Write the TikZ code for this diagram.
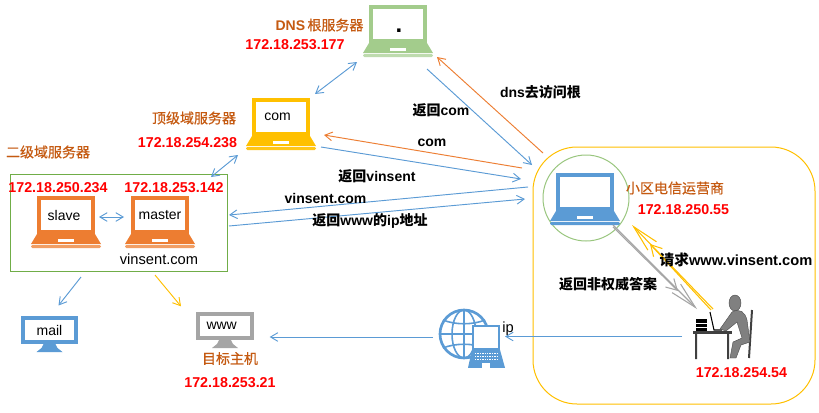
\documentclass[tikz,border=0pt]{standalone}
\usepackage{fontspec}
\setmainfont{Liberation Sans}
\newfontfamily\cjk{Noto Sans CJK SC}
\newfontfamily\cjkmid[FakeBold=0.5]{Noto Sans CJK SC}
\usetikzlibrary{arrows.meta}

\definecolor{netblue}{HTML}{5B9BD5}
\definecolor{netorange}{HTML}{ED7D31}
\definecolor{netyellow}{HTML}{FFC000}
\definecolor{netgreen}{HTML}{70AD47}
\definecolor{lapgreen}{HTML}{A3CC8C}
\definecolor{netgray}{HTML}{A5A5A5}
\definecolor{titlecol}{HTML}{C55A11}

\tikzset{
  lapscreen/.style={draw=#1, fill=white, line width=3pt, minimum width=40.5pt, minimum height=25.5pt, inner sep=0pt, outer sep=1.5pt, font=\fontsize{10.5}{12}\selectfont},
  monscreen/.style={draw=#1, fill=white, line width=3pt, inner sep=0pt, outer sep=1.5pt, font=\fontsize{10.5}{12}\selectfont},
  ipaddr/.style={text=red, font=\fontsize{10.7}{12}\selectfont\bfseries, inner sep=0pt},
  place/.style={text=titlecol, font=\fontsize{10.5}{12}\selectfont\cjkmid, inner sep=0pt},
  note/.style={text=black, font=\fontsize{10.5}{12}\selectfont\bfseries, inner sep=0pt},
  plain/.style={text=black, font=\fontsize{11}{12}\selectfont, inner sep=0pt},
  flow/.style={every edge/.style={draw=#1, line width=0.7pt, -{Straight Barb[length=5.5pt,width=6.5pt]}}},
  both/.style={every edge/.style={draw=#1, line width=0.7pt, {Straight Barb[length=5.5pt,width=6.5pt]}-{Straight Barb[length=5.5pt,width=6.5pt]}}},
  longflow/.style={every edge/.style={draw=#1, line width=0.8pt, -{Straight Barb[length=20pt,width=9pt]}}},
  shortflow/.style={every edge/.style={draw=#1, line width=0.8pt, -{Straight Barb[length=8pt,width=9pt]}}}
}

% name, x, y of screen centre, colour, strip colour, label
\newcommand{\laptop}[6]{
  \node[lapscreen=#4] (#1) at (#2,#3) {#6};
  \fill[#4] (#1.south west) -- (#1.south east) -- ++(6,10) -- ++(-70,0) -- cycle;
  \fill[white] ([shift={(-8,5)}]#1.south) rectangle ++(16,3);
  \fill[#5, rounded corners=1pt] ([shift={(-35,11)}]#1.south) rectangle ++(70,3);
}
% name, x, y of screen centre, width, height, colour, label
\newcommand{\monitor}[7]{
  \node[monscreen=#6, minimum width=#4, minimum height=#5] (#1) at (#2,#3) {#7};
  \fill[#6] ([shift={(-6,0)}]#1.south) -- ++(12,0) -- ++(2,4) -- ++(5,4) -- ++(-26,0) -- ++(5,-4) -- cycle;
}

\begin{document}
\begin{tikzpicture}[x=0.75pt, y=-0.75pt]
  \useasboundingbox[fill=white] (0,0) rectangle (819,412);

  % frames
  \node[draw=netyellow, line width=0.75pt, rounded corners=33pt, minimum width=211.5pt, minimum height=192.75pt, outer sep=0pt] (area) at (674,275.5) {};
  \node[draw=netgreen, line width=0.75pt, minimum width=162.75pt, minimum height=72.75pt, outer sep=0pt] (second) at (118.5,222.5) {};
  \node[draw=lapgreen!80!netgreen, line width=0.75pt, circle, minimum size=64.5pt, outer sep=0pt] (ring) at (586,198) {};

  % machines
  \laptop{root}{398}{24}{lapgreen}{lapgreen!70}{}
  \laptop{com}{281}{117}{netyellow}{netyellow!90}{\kern-5pt com}
  \laptop{slave}{66}{215}{netorange}{netorange!75}{\kern-3pt slave}
  \laptop{master}{160}{215}{netorange}{netorange!75}{master}
  \laptop{isp}{585}{192}{netblue}{netblue}{}
  \monitor{mail}{49.5}{330}{40pt}{18pt}{netblue}{mail}
  \monitor{www}{225}{326}{40pt}{18pt}{netgray}{\kern-5pt www}
  \node[font=\fontsize{18}{18}\selectfont\bfseries, inner sep=0pt] (rootdot) at (399,31) {.};

  % globe
  \node[draw=netblue, line width=2pt, circle, minimum size=36pt, inner sep=0pt, outer sep=0pt] (globe) at (464,334) {};
  \draw[netblue, line width=1.2pt]
    (globe) ellipse (12 and 24)
    (globe.north) -- (globe.south)
    (globe.west) -- (globe.east)
    (443,320) .. controls (455,325) and (473,325) .. (485,320)
    (443,348) .. controls (455,343) and (473,343) .. (485,348);
  \node[draw=netblue, fill=white, line width=1.5pt, minimum width=19.5pt, minimum height=17pt, inner sep=0pt] (term) at (486,337.5) {};
  \fill[netblue] (term.south west) -- (term.south east) -- ++(5,18) -- ++(-37,0) -- cycle;
  \foreach \row in {353,356,359}
    \draw[white, line width=0.6pt, dash pattern=on 1pt off 0.8pt] (475,\row) -- (498,\row);
  \fill[white] (482,363) rectangle (490,368);

  % person at the desk
  \coordinate (person) at (725,335);
  \draw[black!75, line width=1.5pt] (752,310) -- (749,358);
  \fill[black!75] (693,331) rectangle (732,333.5);
  \fill[black!75] (695,333) rectangle (697,359) (727,333) rectangle (729,359);
  \fill[black] (696,319) rectangle (707,331);
  \draw[white, line width=0.3pt] (696,323) -- (707,323) (696,327) -- (707,327);
  \draw[black, line width=0.8pt] (710,312) -- (714,330) -- (722,330);
  \filldraw[fill=black!50, draw=black!70, line width=0.3pt] (735,303) ellipse (6 and 8);
  \filldraw[fill=black!50, draw=black!70, line width=0.3pt]
    (732,312) .. controls (740,308) and (745,312) .. (747,320) -- (750,342) -- (741,345)
    -- (736,358) -- (730,358) -- (733,342) -- (742,338) -- (737,322) -- (726,331) -- (720,329) -- cycle;

  % connectors
  \path[both=netblue]
    ([shift={(-41,19)}]root.south) edge ([shift={(34,-4)}]com.north)
    ([shift={(-43,19)}]com.south) edge ([shift={(-16,3)}]second.north east)
    ([shift={(4,2)}]slave.east) edge ([shift={(-7,2)}]master.west);
  \path[flow=netblue]
    ([shift={(29,26)}]root.south) edge ([shift={(-53,-8)}]isp.north)
    ([shift={(40,11)}]com.south) edge ([shift={(-35,-13)}]isp.west)
    ([shift={(-28,-5)}]isp.west) edge ([shift={(2,-7.5)}]second.east)
    ([shift={(2,3.5)}]second.east) edge ([shift={(-31,7)}]isp.west)
    ([shift={(-37.5,6)}]second.south) edge ([shift={(9,-10.5)}]mail.north)
    ([shift={(-7,3)}]globe.west) edge ([shift={(16,11)}]www.east)
    ([shift={(-43,1.5)}]person) edge ([shift={(17,2.5)}]globe.east);
  \path[flow=netorange]
    ([shift={(-42,-20)}]isp.north) edge ([shift={(39,14)}]root.south)
    ([shift={(-63,-5)}]isp.north) edge ([shift={(43,-1)}]com.south);
  \path[flow=netyellow]
    ([shift={(36.5,4)}]second.south) edge ([shift={(-44,-5.7)}]www.north);
  \path[longflow=netgray]
    ([shift={(28,14)}]isp.south) edge ([shift={(-28,-26)}]person);
  \path[shortflow=netgray]
    ([shift={(28,16)}]isp.south) edge ([shift={(-47,-44)}]person);
  \path[longflow=netyellow]
    ([shift={(-12,-26)}]person) edge ([shift={(47,14)}]isp.south);
  \path[shortflow=netyellow]
    ([shift={(-14,-25)}]person) edge ([shift={(65,33)}]isp.south);

  % labels
  \node[place] (roottitle) at (319.5,25) {\fontspec{Liberation Sans}\bfseries DNS\,\cjkmid\mdseries 根服务器};
  \node[ipaddr] (rootip) at (295,45) {172.18.253.177};
  \node[place] (comtitle) at (194,118) {顶级域服务器};
  \node[ipaddr] (comip) at (187.5,143) {172.18.254.238};
  \node[place] (secondtitle) at (48,152) {二级域服务器};
  \node[ipaddr] (slaveip) at (58,188) {172.18.250.234};
  \node[ipaddr] (masterip) at (174,188) {172.18.253.142};
  \node[plain] (zone) at (159,259) {vinsent.com};
  \node[place] (wwwtitle) at (230,358.5) {目标主机};
  \node[ipaddr] (wwwip) at (230,383) {172.18.253.21};
  \node[plain] (ipword) at (508,329) {ip};
  \node[place] (isptitle) at (675,188) {小区电信运营商};
  \node[ipaddr] (ispip) at (683.5,210) {172.18.250.55};
  \node[ipaddr] (personip) at (741.5,373) {172.18.254.54};

  \node[note] (askroot) at (540.5,92) {dns{\cjk 去访问根}};
  \node[note] (backcom) at (441,110) {{\cjk 返回}com};
  \node[note] (comword) at (432,143) {com};
  \node[note] (backvinsent) at (377,176) {{\cjk 返回}vinsent};
  \node[note] (askvinsent) at (325.5,198) {vinsent.com};
  \node[note] (backip) at (370,221) {{\cjk 返回}www{\cjk 的}ip{\cjk 地址}};
  \node[note, font=\fontsize{11}{12}\selectfont\bfseries] (askwww) at (736,260) {{\cjk 请求}www.vinsent.com};
  \node[note] (backcache) at (608,284) {\cjk 返回非权威答案};
\end{tikzpicture}
\end{document}
